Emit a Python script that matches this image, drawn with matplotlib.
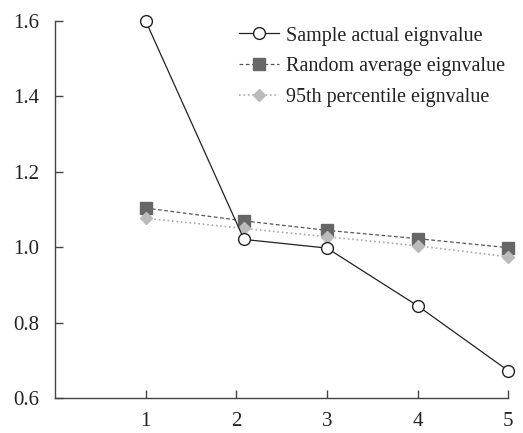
import matplotlib
matplotlib.use("Agg")
import matplotlib.pyplot as plt

x = [1, 2.085, 3, 4, 5]
xticks = [1, 2, 3, 4, 5]
actual = [1.60, 1.021, 0.998, 0.845, 0.673]
random_avg = [1.104, 1.070, 1.045, 1.023, 0.999]
pct95 = [1.077, 1.050, 1.028, 1.004, 0.975]
labels = ["Sample actual eignvalue", "Random average eignvalue", "95th percentile eignvalue"]

plt.rcParams['font.family'] = ['Liberation Serif', 'DejaVu Serif']

fig = plt.figure(figsize=(5.23, 4.33), dpi=100)
ax = fig.add_axes([0.105, 0.080, 0.867, 0.872])

ax.plot(x, actual, '-', color='#222222', lw=0.9, marker='o', ms=8.5,
        mfc='white', mec='#222222', mew=1.0, label=labels[0], zorder=3, clip_on=False)
ax.plot(x, random_avg, '--', color='#555555', lw=0.9, marker='s', ms=8,
        mfc='#666666', mec='#666666', label=labels[1], zorder=2, dashes=(3, 2), clip_on=False)
ax.plot(x, pct95, ':', color='#aaaaaa', lw=1.2, marker='D', ms=6.5,
        mfc='#bbbbbb', mec='#bbbbbb', label=labels[2], zorder=2, clip_on=False)

ax.set_xlim(0, 5)
ax.set_ylim(0.6, 1.6)
ax.set_xticks(xticks)
ax.set_yticks([0.6, 0.8, 1.0, 1.2, 1.4, 1.6])
ax.set_yticklabels(['0.6', '0.8', '1.0', '1.2', '1.4', '1.6'])

for s in ['top', 'right']:
    ax.spines[s].set_visible(False)
for s in ['left', 'bottom']:
    ax.spines[s].set_color('#444444')
    ax.spines[s].set_linewidth(1.0)
ax.tick_params(direction='in', length=6, width=1.0, color='#444444',
               labelsize=15, labelcolor='#222222')
ax.tick_params(axis='x', pad=10)
ax.tick_params(axis='y', pad=11)

ax.legend(loc='upper left', bbox_to_anchor=(0.405, 0.985), frameon=False,
          fontsize=14.5, handlelength=2.0, handletextpad=0.35, labelspacing=0.58,
          borderaxespad=0, borderpad=0, labelcolor='#222222')

fig.savefig('out.png', dpi=100)
